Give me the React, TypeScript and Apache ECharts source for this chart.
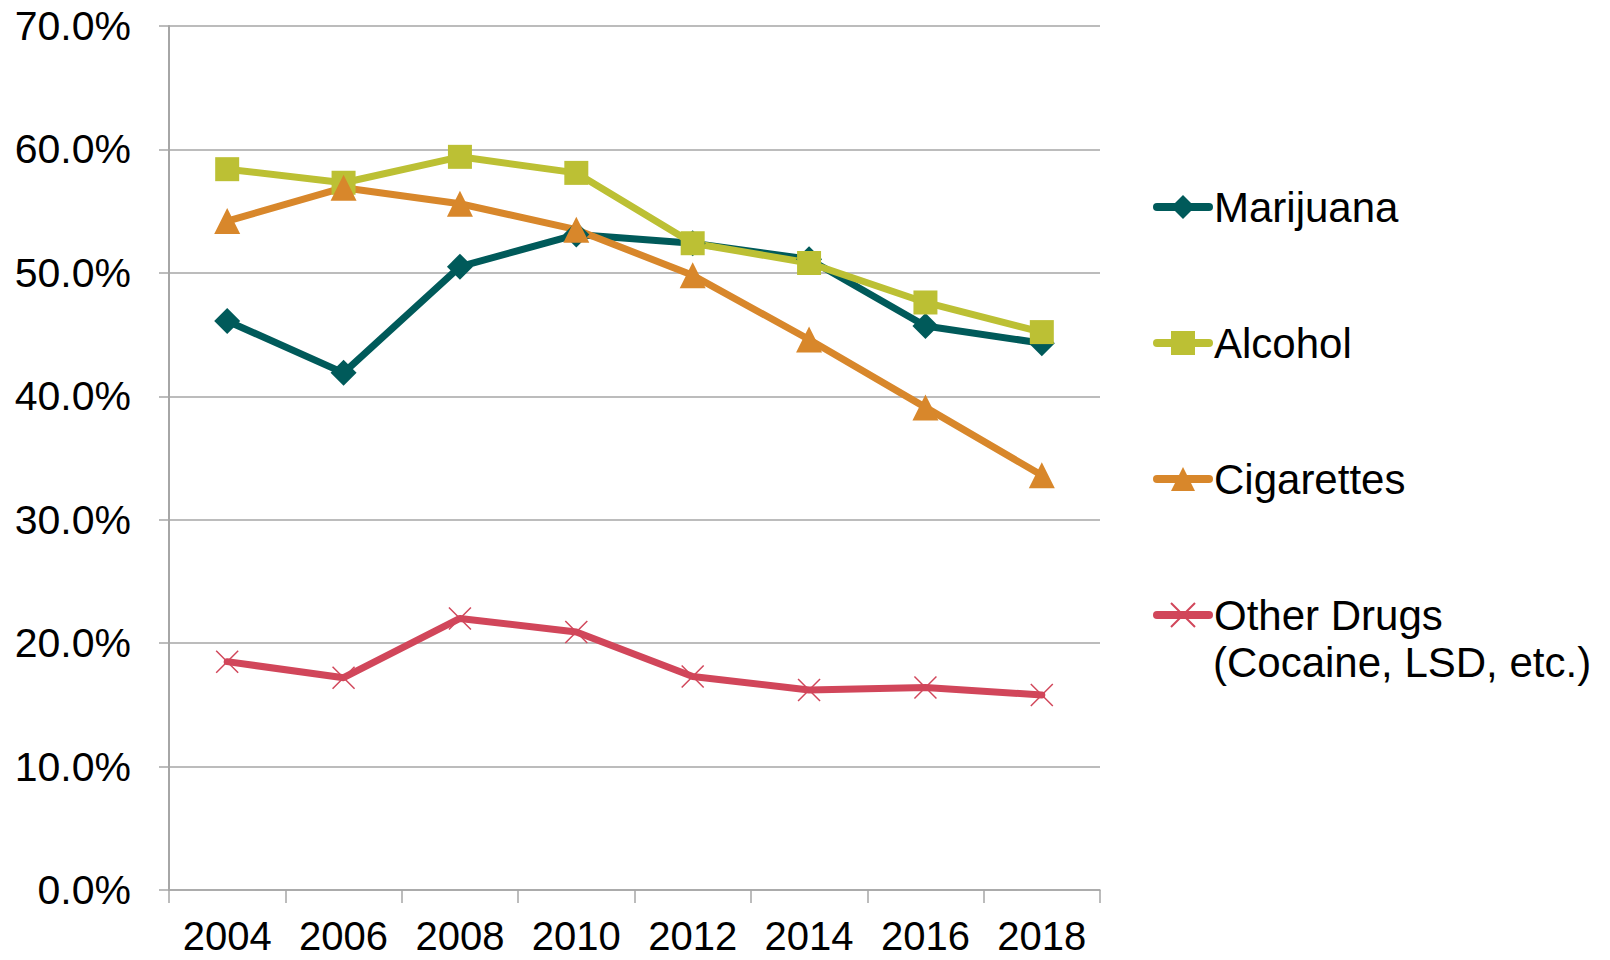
import React, { useEffect, useRef } from "react";
import * as echarts from "echarts";

const years = ["2004", "2006", "2008", "2010", "2012", "2014", "2016", "2018"];
const marijuana = [46.1, 41.9, 50.5, 53.1, 52.4, 51.1, 45.7, 44.3];
const alcohol = [58.4, 57.3, 59.4, 58.1, 52.4, 50.8, 47.6, 45.2];
const cigarettes = [54.2, 56.9, 55.6, 53.5, 49.8, 44.6, 39.1, 33.6];
const otherDrugs = [18.5, 17.2, 22.0, 20.9, 17.3, 16.2, 16.4, 15.8];
const yTicks = [0, 10, 20, 30, 40, 50, 60, 70];

const FONT = "'Liberation Sans', Arial, sans-serif";
const GRAY = "#a6a6a6";

export default function App() {
  const ref = useRef<HTMLDivElement>(null);
  useEffect(() => {
    if (!ref.current) return;
    const chart = echarts.init(ref.current, undefined, { renderer: "svg" });
    const mkSeries = (name: string, data: number[], color: string, symbol: string, size: number, extra: any = {}) => ({
      name,
      type: "line",
      data,
      symbol,
      symbolSize: size,
      showSymbol: true,
      lineStyle: { color, width: 7, cap: "round", join: "round" },
      itemStyle: { color },
      emphasis: { disabled: true },
      ...extra,
    });
    chart.setOption({
      animation: false,
      textStyle: { fontFamily: FONT },
      grid: { left: 169, right: 510, top: 26, bottom: 70 },
      xAxis: {
        type: "category",
        data: years,
        boundaryGap: true,
        axisLine: { show: true, lineStyle: { color: GRAY, width: 1.5 } },
        axisTick: { show: true, length: 13, interval: 0, lineStyle: { color: GRAY, width: 1.5 } },
        axisLabel: { color: "#000", fontSize: 40, lineHeight: 40, fontFamily: FONT, margin: 26, interval: 0 },
      },
      yAxis: {
        type: "value",
        min: yTicks[0],
        max: yTicks[yTicks.length - 1],
        interval: 10,
        axisLine: { show: true, lineStyle: { color: GRAY, width: 2 } },
        axisTick: { show: true, length: 10, lineStyle: { color: GRAY, width: 1.5 } },
        splitLine: { show: true, lineStyle: { color: GRAY, width: 1.5 } },
        axisLabel: {
          color: "#000",
          fontSize: 41,
          fontFamily: FONT,
          margin: 38,
          formatter: (v: number) => v.toFixed(1) + "%",
        },
      },
      legend: {
        orient: "vertical",
        left: 1153,
        top: 186,
        padding: 0,
        itemGap: 94,
        itemWidth: 52,
        itemHeight: 30,
        lineStyle: { width: 8, cap: "round" },
        textStyle: { color: "#000", fontSize: 42, fontFamily: FONT },
        formatter: (name: string) => (name.startsWith("Other Drugs") ? "Other Drugs" : name),
        data: ["Marijuana", "Alcohol", "Cigarettes", "Other Drugs (Cocaine, LSD, etc.)"],
      },
      graphic: [
        {
          type: "text",
          left: 1213,
          top: 641,
          style: { text: "(Cocaine, LSD, etc.)", fill: "#000", font: `42px ${FONT}` },
        },
      ],
      series: [
        mkSeries("Marijuana", marijuana, "#005a5a", "diamond", 26),
        mkSeries("Alcohol", alcohol, "#bcc034", "rect", 24),
        mkSeries("Cigarettes", cigarettes, "#d8872b", "triangle", 26),
        mkSeries(
          "Other Drugs (Cocaine, LSD, etc.)",
          otherDrugs,
          "#d1465a",
          "path://M0,0L10,10M10,0L0,10",
          22,
          { itemStyle: { color: "none", borderColor: "#d1465a", borderWidth: 1.5 } }
        ),
      ],
    });
    return () => chart.dispose();
  }, []);
  return (
    <div
      ref={ref}
      style={{ position: "fixed", left: 0, top: 0, width: 1610, height: 960, background: "#fff" }}
    />
  );
}
